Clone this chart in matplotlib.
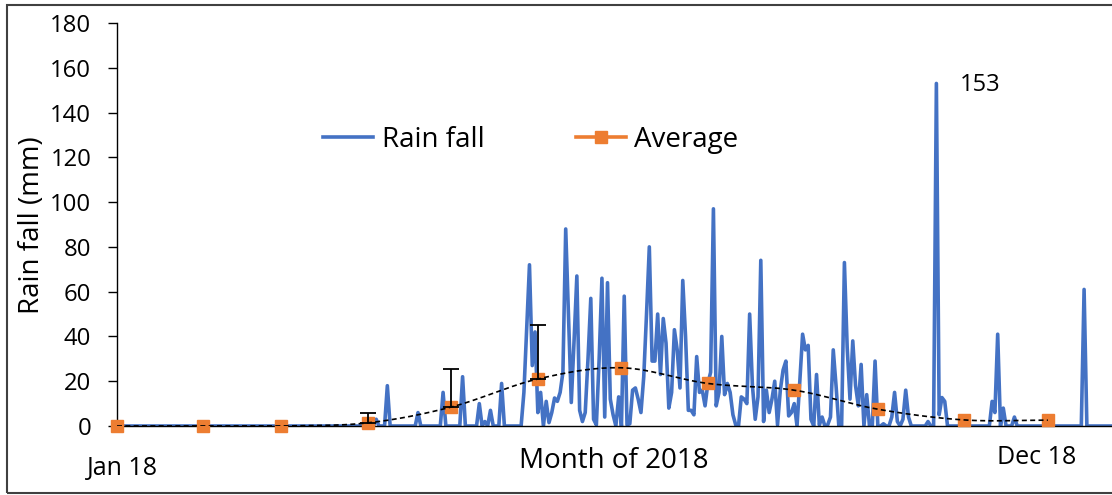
import numpy as np
import matplotlib
matplotlib.use("Agg")
import matplotlib.pyplot as plt
from matplotlib.patches import Rectangle
from matplotlib.lines import Line2D

plt.rcParams['font.family'] = ['Open Sans', 'DejaVu Sans']

# ---------------- data ----------------
# daily rainfall 2018 (day-of-year index, 0 = 1 Jan); days not listed are 0 mm
rain_days = [93, 97, 108, 117, 124, 130, 132, 134, 138,
             146, 147, 148, 149, 150, 151, 152, 154, 155, 156, 157, 158, 159, 160,
             161, 162, 163, 164, 165, 166, 167, 168, 169, 170, 171, 172, 173, 174,
             175, 176, 177, 178, 180, 182, 183, 184, 185, 186, 187, 188, 189, 190,
             191, 192, 193, 194, 195, 196, 197, 198, 199, 200, 201, 202, 203, 204,
             205, 206, 207, 208, 209, 210, 211, 212, 213, 214, 215, 216, 217, 218,
             219, 220, 221, 222, 224, 225, 226, 227, 228, 229, 230, 231, 232, 233,
             234, 235, 236, 237, 238, 239, 240, 241, 242, 243, 245, 246, 247, 248,
             249, 251, 252, 253, 255, 256, 257, 258, 261, 262, 263, 264, 265, 266,
             267, 269, 272, 275, 278, 279, 280, 282, 283, 284, 291, 294, 295, 296,
             297, 314, 315, 316, 318, 322, 347]
rain_mm = [3, 18, 6, 15, 22, 10, 2, 7, 19,
           15, 43, 72, 27, 42, 6, 15, 11, 1.5, 6, 12.5, 11, 15, 24,
           88, 50, 10.5, 38, 67, 7, 2, 6, 30, 57, 3, 0.5, 30, 66,
           4, 64, 12, 5, 13, 58, 0.5, 1, 16, 17, 12, 6, 22, 50,
           80, 29, 29, 50, 23, 48, 37, 8, 15, 43, 34, 17, 65, 40,
           7, 7, 5, 31, 15, 16, 9, 19, 24, 97, 9, 15, 40, 14,
           19, 15, 5, 0.5, 13, 12, 10, 50, 18, 3, 13, 74, 2, 16,
           6, 12, 20, 0.5, 16, 25, 29, 4.5, 6, 10, 20, 41, 34, 36,
           3, 23, 0.5, 4, 0.5, 4, 34, 18, 73, 35, 12, 38, 18, 9,
           27.5, 14, 29, 1, 4, 15, 2, 3, 16, 4, 2, 153, 5, 12.7,
           11, 11, 6, 41, 8, 4, 61]
n_days = 365

# monthly averages (placed at first day of each month) with upper error
month_start = [0, 31, 59, 90, 120, 151, 181, 212, 243, 273, 304, 334]
month_avg = [0, 0, 0, 1.4, 8.5, 21, 26, 19, 16, 7.5, 2.7, 2.6]
month_err_up = [0, 0, 0, 4.5, 17, 24.3, 0, 0, 0, 0, 0, 0]

y_ticks = [0, 20, 40, 60, 80, 100, 120, 140, 160, 180]

# ---------------- build series ----------------
rain = np.zeros(n_days)
rain[np.array(rain_days)] = rain_mm
days = np.arange(n_days)


def catmull_rom(x, y, n=30):
    x = np.asarray(x, float)
    y = np.asarray(y, float)
    px = np.concatenate([[2 * x[0] - x[1]], x, [2 * x[-1] - x[-2]]])
    py = np.concatenate([[2 * y[0] - y[1]], y, [2 * y[-1] - y[-2]]])
    xs, ys = [], []
    for i in range(1, len(px) - 2):
        t = np.linspace(0, 1, n, endpoint=False)
        for arr, out in ((px, xs), (py, ys)):
            p0, p1, p2, p3 = arr[i - 1], arr[i], arr[i + 1], arr[i + 2]
            out.append(0.5 * ((2 * p1) + (-p0 + p2) * t +
                              (2 * p0 - 5 * p1 + 4 * p2 - p3) * t ** 2 +
                              (-p0 + 3 * p1 - 3 * p2 + p3) * t ** 3))
    xs.append([x[-1]])
    ys.append([y[-1]])
    return np.concatenate(xs), np.concatenate(ys)


# ---------------- figure ----------------
W, H = 1112, 495
fig = plt.figure(figsize=(W / 100, H / 100), dpi=100)
fig.patch.set_facecolor('white')

x0_px, y0_px, ytop_px = 117, 426, 23
px_per_day = 2.787
ax = fig.add_axes([x0_px / W, 1 - y0_px / H, 1 - x0_px / W, (y0_px - ytop_px) / H])
ax.set_xlim(0, (W - x0_px) / px_per_day)
ax.set_ylim(0, 180)

blue = '#4472C4'
orange = '#ED7D31'

ax.plot(days, rain, color=blue, lw=2.6, zorder=2, solid_joinstyle='round')

ax.plot(month_start, month_avg, ls='none', marker='s', ms=8.6, color=orange,
        mec=orange, zorder=3, clip_on=False)

sx, sy = catmull_rom(month_start, month_avg)
ax.plot(sx, np.maximum(sy, 0), color='black', lw=1.2, dashes=(3, 2), zorder=4)

err_idx = [i for i, e in enumerate(month_err_up) if e > 0]
ax.errorbar([month_start[i] for i in err_idx], [month_avg[i] for i in err_idx],
            yerr=[[0] * len(err_idx), [month_err_up[i] for i in err_idx]],
            fmt='none', ecolor='black', elinewidth=1.3, capsize=6, capthick=1.3,
            zorder=4)

# axes styling
for s in ['top', 'right']:
    ax.spines[s].set_visible(False)
ax.spines['left'].set_color('black')
ax.spines['bottom'].set_color('black')
ax.spines['left'].set_linewidth(1.0)
ax.spines['bottom'].set_linewidth(1.0)
ax.set_yticks(y_ticks)
ax.tick_params(axis='y', direction='out', length=6.5, width=1.0, pad=12,
               labelsize=17.2, colors='black')
ax.set_xticks([])

fig.text(32 / W, 1 - 225 / H, 'Rain fall (mm)', rotation=90, ha='center',
         va='center', fontsize=20)
fig.text(614 / W, 1 - 461 / H, 'Month of 2018', ha='center', va='center',
         fontsize=20)
fig.text(122 / W, 1 - 469 / H, 'Jan 18', ha='center', va='center', fontsize=18)
fig.text(1037 / W, 1 - 458 / H, 'Dec 18', ha='center', va='center', fontsize=18)
fig.text(980 / W, 1 - 85 / H, '153', ha='center', va='center', fontsize=17)

# legend
handles = [Line2D([], [], color=blue, lw=2.6),
           Line2D([], [], color=orange, lw=2.6, marker='s', ms=8.6)]
leg = ax.legend(handles, ['Rain fall', 'Average'], ncol=2, frameon=False,
                fontsize=20, handlelength=1.8, handletextpad=0.3,
                columnspacing=3.3, loc='center',
                bbox_to_anchor=((531 - x0_px) / (W - x0_px), (y0_px - 140) / (y0_px - ytop_px)))

# outer frame
fig.add_artist(Rectangle((7 / W, 1 - 493 / H), (W + 10) / W, (493 - 5) / H,
                         transform=fig.transFigure, fill=False,
                         edgecolor='#404040', lw=1.5))

fig.savefig('out.png', dpi=100, facecolor='white')
